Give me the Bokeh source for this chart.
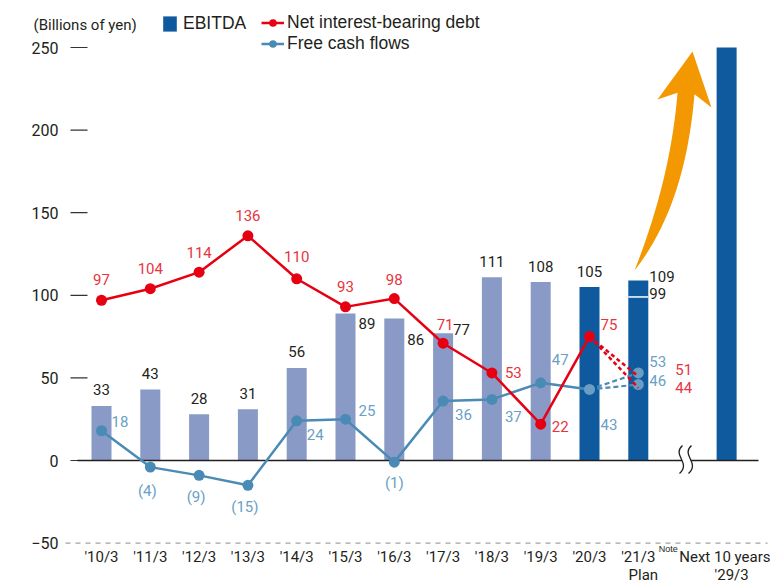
import numpy as np
from bokeh.plotting import figure
from bokeh.models import Range1d, FixedTicker, Legend, LegendItem, ColumnDataSource
from bokeh.core.properties import value
from bokeh.embed import file_html
from bokeh.resources import INLINE

# ---------------- data ----------------
categories = ["'10/3", "'11/3", "'12/3", "'13/3", "'14/3", "'15/3", "'16/3",
              "'17/3", "'18/3", "'19/3", "'20/3", "'21/3", "Next 10 years"]
cat_pos = [0, 1, 2, 3, 4, 5, 6, 7, 8, 9, 10, 11, 12.81]
ebitda = [33, 43, 28, 31, 56, 89, 86, 77, 111, 108, 105, 109, 250]
ebitda_plan_low = 99
net_debt = [97, 104, 114, 136, 110, 93, 98, 71, 53, 22, 75]
net_debt_plan = [51, 44]
fcf = [18, -4, -9, -15, 24, 25, -1, 36, 37, 47, 43]
fcf_plan = [53, 46]
y_ticks = [-50, 0, 50, 100, 150, 200, 250]

# ---------------- layout helpers (reference pixel geometry) ----------------
X0, DX, Y0, KY = 101.0, 48.8, 460.0, 1.652
def px2x(px):
    return (np.asarray(px, dtype=float) - X0) / DX
def py2y(py):
    return (Y0 - np.asarray(py, dtype=float)) / KY

W, H = 770, 585
FONT = "Roboto"
SANS = "Liberation Sans"
BLACK = "#231F20"
RED = "#E60012"
RED_TXT = "#E8343D"
BLUE = "#4A8BB5"
BLUE_LIGHT = "#6C9EC4"
BLUE_TXT = "#6A9FC6"
BAR_PAST = "#8A9AC6"
BAR_NEW = "#0F5A9E"

p = figure(width=W, height=H, output_backend="svg", toolbar_location=None,
           x_range=Range1d(float(px2x(0)), float(px2x(W))),
           y_range=Range1d(float(py2y(H)), float(py2y(0))),
           min_border_left=0, min_border_right=0, min_border_top=0, min_border_bottom=0)
p.outline_line_color = None
p.background_fill_color = "white"
p.border_fill_color = "white"
p.xgrid.visible = False
p.ygrid.visible = False

# y axis (fixed inside the frame)
p.yaxis.fixed_location = float(px2x(65))
p.yaxis.ticker = FixedTicker(ticks=y_ticks)
p.yaxis.axis_line_color = None
p.yaxis.major_tick_line_color = None
p.yaxis.major_tick_out = 0
p.yaxis.major_tick_in = 0
p.yaxis.minor_tick_line_color = None
p.yaxis.major_label_standoff = 7
p.yaxis.major_label_text_font = FONT
p.yaxis.major_label_text_font_size = "16px"
p.yaxis.major_label_text_color = BLACK

# x axis (fixed inside the frame)
p.xaxis.fixed_location = float(py2y(546))
p.xaxis.ticker = FixedTicker(ticks=cat_pos)
p.xaxis.major_label_overrides = {float(k): v for k, v in zip(cat_pos, categories)}
p.xaxis.axis_line_color = None
p.xaxis.major_tick_line_color = None
p.xaxis.major_tick_out = 0
p.xaxis.major_tick_in = 0
p.xaxis.minor_tick_line_color = None
p.xaxis.major_label_standoff = 1
p.xaxis.major_label_text_font = FONT
p.xaxis.major_label_text_font_size = "15px"
p.xaxis.major_label_text_color = BLACK

# tick dashes and -50 dashed rule
tick_vals = y_ticks[1:]
p.segment(x0=[float(px2x(70))] * len(tick_vals), y0=tick_vals,
          x1=[float(px2x(87))] * len(tick_vals), y1=tick_vals,
          line_color="#333333", line_width=1.2)
p.segment(x0=[float(px2x(65))], y0=[y_ticks[0]], x1=[float(px2x(767))], y1=[y_ticks[0]],
          line_color="#8a8a8a", line_width=1, line_dash="5 5")

# ---------------- bars ----------------
bar_colors = [BAR_PAST] * 10 + [BAR_NEW] * 3
bsrc = ColumnDataSource(dict(x=cat_pos, top=ebitda, color=bar_colors))
bars = p.vbar(x="x", top="top", bottom=0, width=0.41, fill_color="color",
              line_color=None, source=bsrc)
p.segment(x0=[cat_pos[11] - 0.205], y0=[ebitda_plan_low], x1=[cat_pos[11] + 0.205],
          y1=[ebitda_plan_low], line_color="white", line_width=1.5)

# zero line and break mark
p.segment(x0=[float(px2x(77))], y0=[0], x1=[float(px2x(758))], y1=[0],
          line_color=BLACK, line_width=1.5)
def s_curve(dxp, color, width):
    p.bezier(x0=[float(px2x(682 + dxp))], y0=[float(py2y(445))],
             x1=[float(px2x(679 + dxp))], y1=[float(py2y(473))],
             cx0=[float(px2x(671 + dxp))], cy0=[float(py2y(455))],
             cx1=[float(px2x(691 + dxp))], cy1=[float(py2y(462))],
             line_color=color, line_width=width)
s_curve(4.5, "white", 8)
s_curve(0, BLACK, 1.3)
s_curve(9, BLACK, 1.3)

# ---------------- orange arrow ----------------
P0 = np.array([634.0, 270.0]); P1 = np.array([677.0, 195.0]); P2 = np.array([685.5, 93.0])
t = np.linspace(0, 1, 50)
C = ((1 - t) ** 2)[:, None] * P0 + (2 * (1 - t) * t)[:, None] * P1 + (t ** 2)[:, None] * P2
D = (2 * (1 - t))[:, None] * (P1 - P0) + (2 * t)[:, None] * (P2 - P1)
D = D / np.linalg.norm(D, axis=1)[:, None]
N = np.stack([D[:, 1], -D[:, 0]], axis=1)
w = 17 * (1 - (1 - t) ** 3)
L = C + N * (w / 2)[:, None]
R = C - N * (w / 2)[:, None]
head = np.array([[657.0, 99.0], [692.0, 51.0], [711.0, 107.0]])
poly = np.vstack([L, head, R[::-1]])
p.patch(px2x(poly[:, 0]), py2y(poly[:, 1]), fill_color="#F39800", line_color=None)

# ---------------- lines ----------------
n = len(fcf)
xs = cat_pos[:n]
p.multi_line(xs=[[xs[-1], cat_pos[11]] for _ in fcf_plan], ys=[[fcf[-1], v] for v in fcf_plan],
             line_color=BLUE, line_width=2.2, line_dash="5 3")
blue_line = p.line(xs, fcf, line_color=BLUE, line_width=2.5)
blue_pts = p.scatter(xs[:-1], fcf[:-1], size=11, fill_color=BLUE, line_color=None)
p.scatter([xs[-1]] + [cat_pos[11]] * len(fcf_plan), [fcf[-1]] + fcf_plan, size=11,
          fill_color=BLUE_LIGHT, line_color=None)
red_line = p.line(xs, net_debt, line_color=RED, line_width=2.5)
red_pts = p.scatter(xs, net_debt, size=11, fill_color=RED, line_color=None)
p.multi_line(xs=[[xs[-1], cat_pos[11]] for _ in net_debt_plan],
             ys=[[net_debt[-1], v] for v in net_debt_plan],
             line_color=RED, line_width=2.5, line_dash="4 3")

# ---------------- data labels ----------------
def labels(x, y, text, dx, dy, align, color, size="15px", font=FONT):
    src = ColumnDataSource(dict(x=x, y=y, text=text, dx=dx, dy=dy))
    p.text(x="x", y="y", text="text", x_offset="dx", y_offset="dy", source=src,
           text_align=align, text_baseline="middle", text_font=value(font),
           text_font_size=size, text_color=color)

e_dx = [0, 0, 0, 0, 0, 13, 13, 10, 0, 0, 0, 11]
e_dy = [-16, -16, -16, -16, -16, 10, 21, -4, -16, -16, -16, -4]
e_right = [False, False, False, False, False, True, True, True, False, False, False, True]
for flag, al in ((False, "center"), (True, "left")):
    idx = [i for i in range(12) if e_right[i] == flag]
    labels([cat_pos[i] for i in idx], [ebitda[i] for i in idx], [str(ebitda[i]) for i in idx],
           [e_dx[i] for i in idx], [e_dy[i] for i in idx], al, BLACK)
labels([cat_pos[11]], [ebitda_plan_low], [str(ebitda_plan_low)], [11], [-3], "left", BLACK)

nd_all = net_debt + net_debt_plan
nd_x = xs + [cat_pos[11]] * len(net_debt_plan)
nd_dx = [0, 0, 0, 0, 0, 0, 0, 2, 13, 11, 11, 37, 37]
nd_dy = [-21, -20, -20, -20, -22, -20, -19, -19, 0, 2, -12, -7, 0]
nd_right = [False] * 8 + [True] * 5
for flag, al in ((False, "center"), (True, "left")):
    idx = [i for i in range(len(nd_all)) if nd_right[i] == flag]
    labels([nd_x[i] for i in idx], [nd_all[i] for i in idx], [str(nd_all[i]) for i in idx],
           [nd_dx[i] for i in idx], [nd_dy[i] for i in idx], al, RED_TXT)

f_all = fcf + fcf_plan
f_x = xs + [cat_pos[11]] * len(fcf_plan)
f_txt = ["(%d)" % -v if v < 0 else str(v) for v in f_all]
f_dx = [10, -3, -3, -3, 10, 13, 0, 12, 13, 11, 11, 11, 11]
f_dy = [-9, 24, 22, 22, 14, -9, 21, 13, 17, -23, 35, -11, -4]
f_right = [v >= 0 for v in f_all]
for flag, al in ((False, "center"), (True, "left")):
    idx = [i for i in range(len(f_all)) if f_right[i] == flag]
    labels([f_x[i] for i in idx], [f_all[i] for i in idx], [f_txt[i] for i in idx],
           [f_dx[i] for i in idx], [f_dy[i] for i in idx], al, BLUE_TXT)

# ---------------- extra texts ----------------
y_axis_line = float(py2y(546))
labels([cat_pos[11], cat_pos[12]], [y_axis_line] * 2, ["Plan", "'29/3"], [5, 5], [28, 28],
       "center", BLACK)
labels([cat_pos[11]], [y_axis_line], ["Note"], [30], [2], "center", BLACK, size="9px", font=SANS)
labels([float(px2x(33))], [float(py2y(24))], ["(Billions of yen)"], [0], [0], "left", BLACK)

# ---------------- legends ----------------
def make_legend(items, loc):
    lg = Legend(items=items, location=loc, orientation="vertical", padding=0, margin=0,
                spacing=0, glyph_width=23, glyph_height=19, label_height=19,
                label_standoff=3, border_line_color=None, background_fill_alpha=0,
                label_text_font=SANS, label_text_font_size="17.5px", label_text_color=BLACK)
    p.add_layout(lg)
    return lg

lg1 = make_legend([LegendItem(label="EBITDA", renderers=[bars], index=10)], (161, 551))
lg1.glyph_width = 17
lg1.label_standoff = 5
make_legend([LegendItem(label="Net interest-bearing debt", renderers=[red_line, red_pts]),
             LegendItem(label="Free cash flows", renderers=[blue_line, blue_pts])], (261, 531))

open("out.html", "w").write(file_html(p, INLINE))
